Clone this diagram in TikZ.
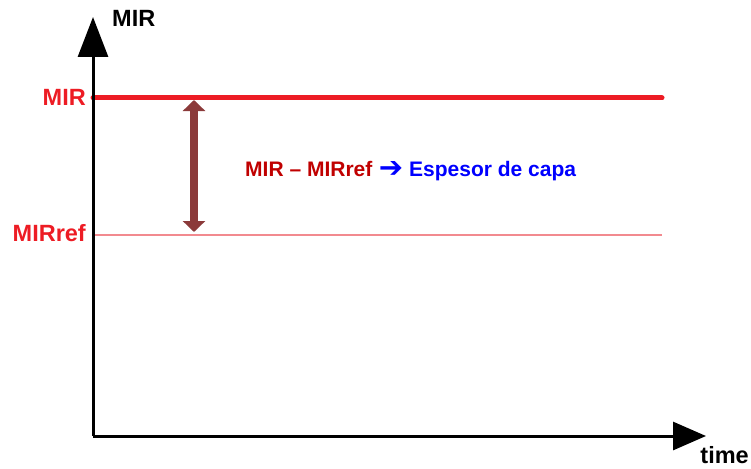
\documentclass[tikz,border=0pt]{standalone}
\usepackage{fontspec}
\setmainfont{Liberation Sans}
\newfontfamily\dejavu{DejaVu Sans}
\usetikzlibrary{arrows.meta}
\definecolor{mirred}{HTML}{ED1C24}
\definecolor{reflight}{HTML}{F28A8F}
\definecolor{darkred}{HTML}{C00000}
\definecolor{brownarrow}{HTML}{8B3A3A}
\definecolor{textblue}{HTML}{0000FF}
\begin{document}
\begin{tikzpicture}[x=1pt,y=-1pt,
  lbl/.style={inner sep=0pt,font=\fontsize{23.5}{28}\selectfont\bfseries},
  midtxt/.style={inner sep=0pt,font=\fontsize{21}{25}\selectfont\bfseries}]
\useasboundingbox (0,0) rectangle (751,468);
\coordinate (O) at (93,436);
\coordinate (ytip) at (93,17);
\coordinate (xtip) at (706,436);
\coordinate (mirL) at (93,98);
\coordinate (mirR) at (662,98);
\coordinate (refL) at (93,235);
\coordinate (refR) at (662,235);
\coordinate (dtop) at (194,100);
\coordinate (dbot) at (194,232);
% reference lines
\draw[line width=1.2pt,reflight] (refL) -- (refR);
\draw[line width=5pt,mirred,line cap=round] (mirL) -- (mirR);
% axes
\draw[line width=3pt,-{Triangle[length=40pt,width=30pt]}] (O) -- (ytip);
\draw[line width=3pt,-{Triangle[length=33pt,width=28pt]}] (O) -- (xtip);
% double arrow
\draw[line width=8pt,brownarrow,{Triangle[length=11pt,width=22pt]}-{Triangle[length=11pt,width=22pt]}] (dtop) -- (dbot);
% labels
\node[lbl,anchor=base west] (ylab) at (112,27) {MIR};
\node[lbl,anchor=base east] (xlab) at (749,463) {time};
\node[lbl,anchor=base east,text=mirred] (mirlab) at (86,106) {MIR};
\node[lbl,anchor=base east,text=mirred] (reflab) at (86,241) {MIRref};
\node[midtxt,anchor=base west,text=darkred] (diff) at (245,176) {MIR – MIRref};
\node[inner sep=0pt,text=textblue,font=\fontsize{29}{34}\selectfont\dejavu\bfseries] (arr) at (391,169) {➔};
\node[midtxt,anchor=base west,text=textblue] (esp) at (409,176) {Espesor de capa};
\end{tikzpicture}
\end{document}
